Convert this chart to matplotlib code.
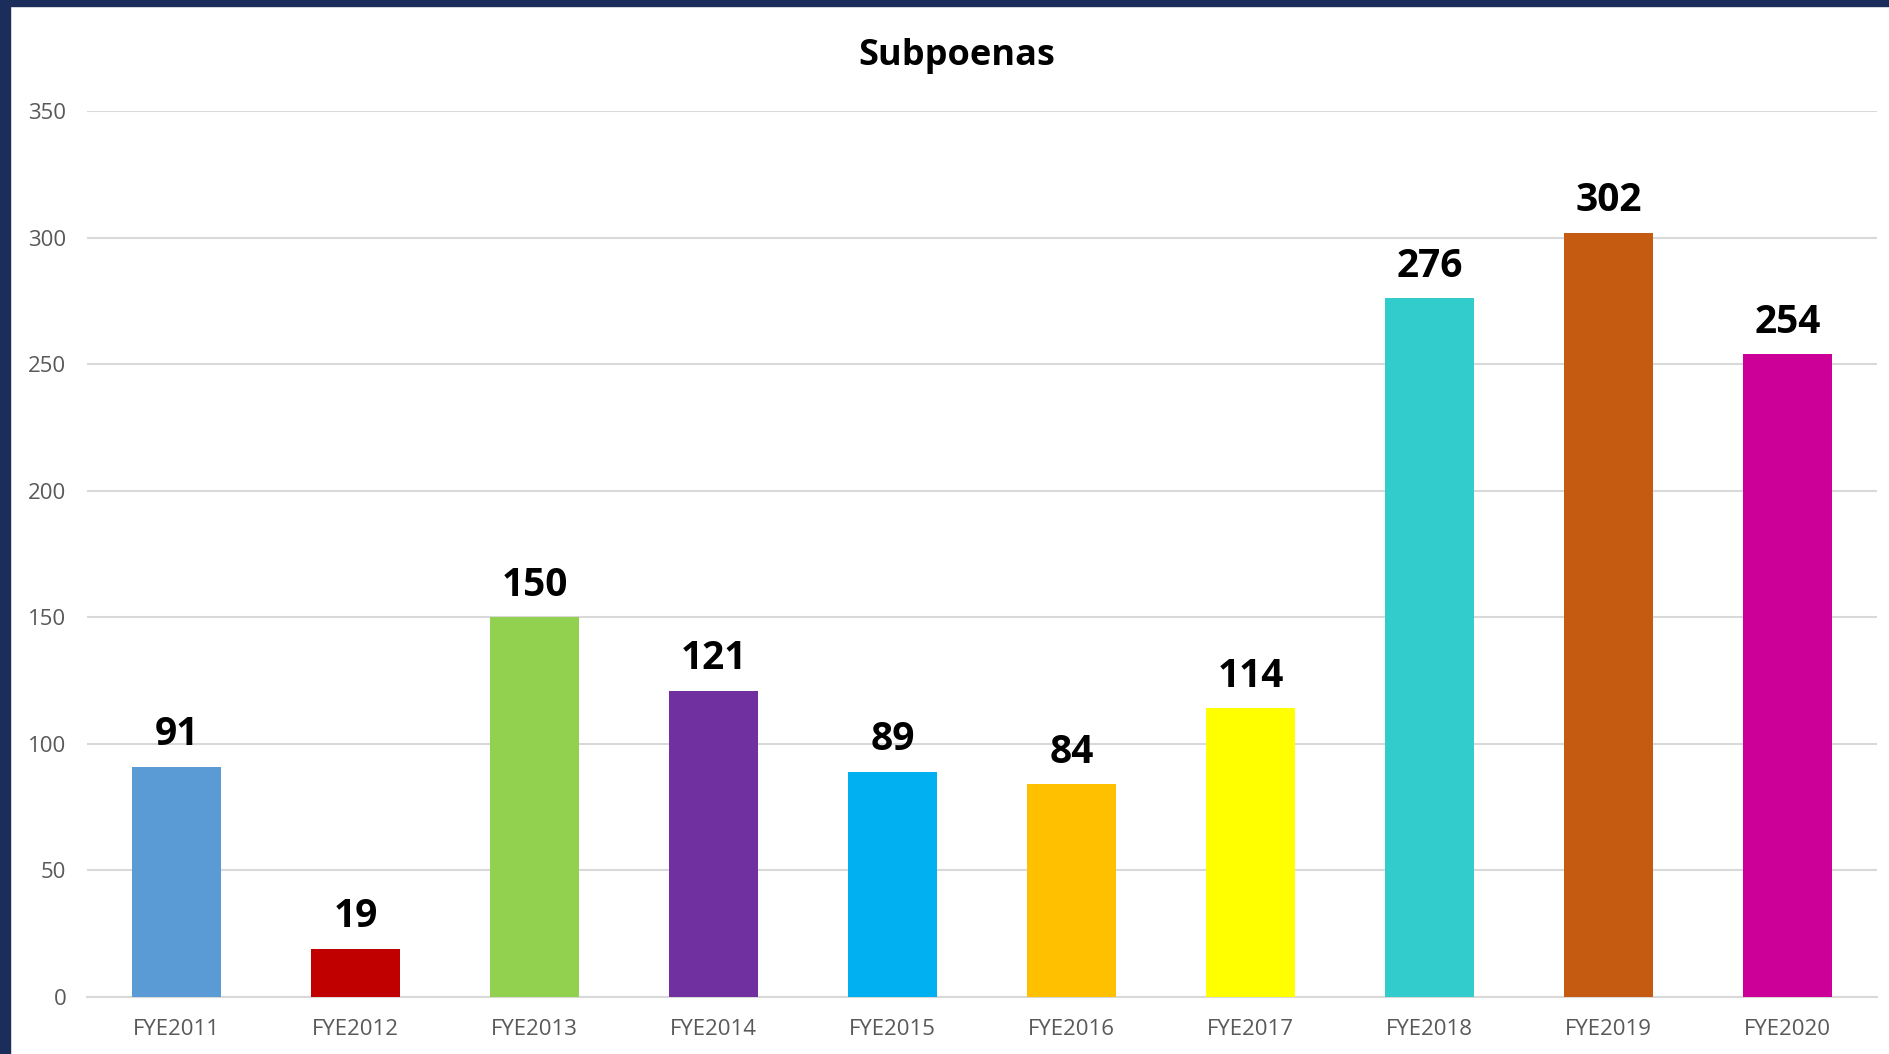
import numpy as np
from matplotlib import pyplot as plt
from matplotlib.patches import Rectangle

# data
years = ['FYE2011', 'FYE2012', 'FYE2013', 'FYE2014', 'FYE2015',
         'FYE2016', 'FYE2017', 'FYE2018', 'FYE2019', 'FYE2020']
subpoenas = [91, 19, 150, 121, 89, 84, 114, 276, 302, 254]
colors = ['#5B9BD5', '#C00000', '#92D050', '#7030A0', '#00B0F0',
          '#FFC000', '#FFFF00', '#33CCCC', '#C55A11', '#CC0099']
yticks = [0, 50, 100, 150, 200, 250, 300, 350]

W, H = 1890, 1054
fig = plt.figure(figsize=(W / 100, H / 100), dpi=100)
ax = fig.add_axes([87 / W, 57 / H, (1877 - 87) / W, (997 - 111) / H])

x = np.arange(len(years))
ax.bar(x, subpoenas, width=0.5, color=colors, zorder=3)
for xi, v in zip(x, subpoenas):
    ax.annotate(str(v), (xi, v), xytext=(0, 9), textcoords='offset points',
                ha='center', va='bottom', fontsize=28, fontweight='bold',
                family='Open Sans')

ax.set_xlim(-0.5, len(years) - 0.5)
ax.set_ylim(0, 350)
ax.set_yticks(yticks)
ax.set_xticks(x)
ax.set_xticklabels(years)
ax.grid(axis='y', color='#D9D9D9', linewidth=1.5, zorder=0)
for s in ['top', 'right', 'left']:
    ax.spines[s].set_visible(False)
ax.spines['bottom'].set_color('#D9D9D9')
ax.spines['bottom'].set_linewidth(1.5)
ax.tick_params(length=0, labelsize=16, labelcolor='#595959', pad=16)
ax.tick_params(axis='y', pad=15)
for lab in ax.get_xticklabels() + ax.get_yticklabels():
    lab.set_family('Open Sans')

fig.text(957 / W, 1 - 56 / H, 'Subpoenas', ha='center', va='center',
         fontsize=26, fontweight='bold', family='Open Sans')

# dark frame at left and top
fig.patches.append(Rectangle((0, 0), 10 / W, 1, transform=fig.transFigure,
                             color='#1B2D5A', zorder=5))
fig.patches.append(Rectangle((0, 1 - 6 / H), 1, 6 / H, transform=fig.transFigure,
                             color='#1B2D5A', zorder=5))

plt.savefig('out.png', dpi=100)
